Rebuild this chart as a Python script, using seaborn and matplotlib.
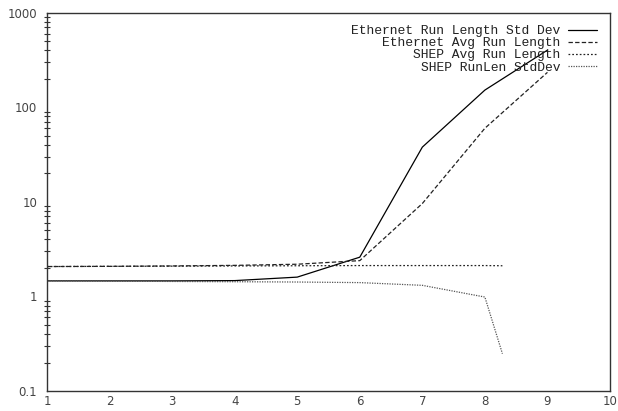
import matplotlib
matplotlib.use("Agg")
import matplotlib.pyplot as plt
import seaborn as sns
import pandas as pd

# Ethernet measurements at 1..9
eth_x = [1, 2, 3, 4, 5, 6, 7, 8, 9]
eth_std = [1.46, 1.46, 1.46, 1.47, 1.60, 2.60, 37.9, 152, 402]
eth_avg = [2.07, 2.08, 2.10, 2.13, 2.19, 2.39, 9.6, 60, 234]

# SHEP measurements
shep_x = [1, 2, 3, 4, 5, 6, 7, 8, 8.28]
shep_avg = [2.07, 2.08, 2.09, 2.10, 2.11, 2.12, 2.12, 2.12, 2.11]
shep_std = [1.46, 1.45, 1.44, 1.43, 1.42, 1.40, 1.31, 0.985, 0.248]

labels = ["Ethernet Run Length Std Dev", "Ethernet Avg Run Length",
          "SHEP Avg Run Length", "SHEP RunLen StdDev"]
x_ticks = [1, 2, 3, 4, 5, 6, 7, 8, 9, 10]
y_ticks = [0.1, 1, 10, 100, 1000]

sns.set_style("white")
plt.rcParams["font.family"] = ["DejaVu Sans"]

W, H = 618, 411
fig = plt.figure(figsize=(W / 100, H / 100), dpi=100)
left, right, top, bottom = 47, 610, 12.7, 391
ax = fig.add_axes([left / W, 1 - bottom / H, (right - left) / W, (bottom - top) / H])

series = [
    (eth_x, eth_std, dict(color="black", lw=0.9, linestyle="-")),
    (eth_x, eth_avg, dict(color="#222222", lw=0.9, linestyle=(0, (3.5, 1.8)))),
    (shep_x, shep_avg, dict(color="#222222", lw=0.9, linestyle=(0, (1.4, 1.6)))),
    (shep_x, shep_std, dict(color="#555555", lw=0.9, linestyle=(0, (1.0, 1.0)))),
]
for (xs, ys, style), lab in zip(series, labels):
    df = pd.DataFrame({"x": xs, "y": ys})
    sns.lineplot(data=df, x="x", y="y", ax=ax, label=lab, **style)

ax.set_yscale("log")
ax.set_xlim(1, 10)
ax.set_ylim(0.1, 1000)
ax.set_xticks(x_ticks)
ax.set_xticklabels([str(v) for v in x_ticks])
ax.set_yticks(y_ticks)
ax.set_yticklabels(["0.1", "1", "10", "100", "1000"])
ax.set_xlabel("")
ax.set_ylabel("")

for sp in ax.spines.values():
    sp.set_color("#333333")
    sp.set_linewidth(1.0)
    sp.set_visible(True)

ax.tick_params(axis="y", which="major", direction="out", length=5, width=0.9,
               color="#333333", labelsize=8.5, labelcolor="#444444", pad=2)
ax.tick_params(axis="x", which="major", direction="inout", length=6, width=0.9,
               color="#333333", labelsize=8.5, labelcolor="#444444", pad=0)
ax.tick_params(axis="y", which="minor", direction="inout", length=4, width=0.8,
               color="#333333", left=True)
ax.tick_params(axis="x", which="minor", bottom=False)

leg = ax.legend(loc="upper right", bbox_to_anchor=(597 / W, 1 - 25 / H),
                bbox_transform=fig.transFigure, frameon=False, markerfirst=False,
                prop={"family": "Liberation Mono", "size": 9.4},
                handlelength=2.2, handletextpad=0.6, labelspacing=0.0,
                borderpad=0, borderaxespad=0)
for t in leg.get_texts():
    t.set_color("#222222")

fig.savefig("out.png", dpi=100, facecolor="white")
